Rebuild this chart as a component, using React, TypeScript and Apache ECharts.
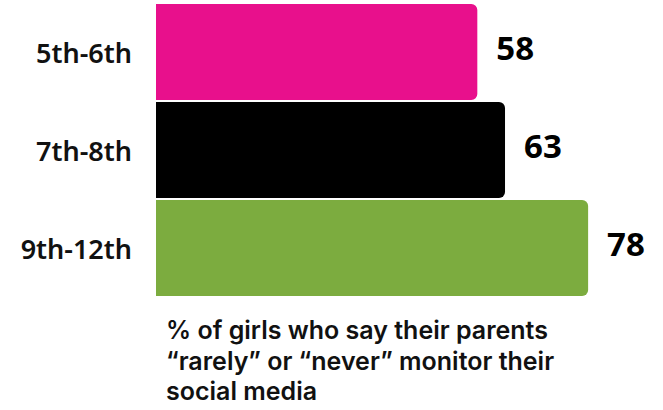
import React, { useEffect, useRef } from "react";
import * as echarts from "echarts";

const categories = ["5th-6th", "7th-8th", "9th-12th"];
const values = [58, 63, 78];
const barColors = ["#E8108C", "#000000", "#7CAC3F"];
const footnote = "% of girls who say their parents\n\u201crarely\u201d or \u201cnever\u201d monitor their\nsocial media";

export default function App() {
  const ref = useRef<HTMLDivElement>(null);
  useEffect(() => {
    if (!ref.current) return;
    const chart = echarts.init(ref.current, null, { renderer: "svg" });
    chart.setOption({
      animation: false,
      grid: { left: 156, right: 63.8, top: 3, height: 294, containLabel: false },
      xAxis: {
        type: "value",
        min: 0,
        max: 80,
        show: false,
      },
      yAxis: {
        type: "category",
        data: categories,
        inverse: true,
        axisLine: { show: false },
        axisTick: { show: false },
        axisLabel: {
          margin: 24,
          color: "#111",
          fontFamily: "Noto Sans",
          fontWeight: 600,
          fontSize: 27,
          padding: [0, 0, 9, 0],
        },
      },
      series: [
        {
          type: "bar",
          barCategoryGap: "2%",
          data: values.map((v, i) => ({ value: v, itemStyle: { color: barColors[i] } })),
          itemStyle: { borderRadius: [0, 6, 6, 0] },
          label: {
            show: true,
            position: "right",
            distance: 19,
            offset: [0, -5],
            color: "#000",
            fontFamily: "Noto Sans",
            fontWeight: 700,
            fontSize: 33,
          },
        },
      ],
      graphic: [
        {
          type: "text",
          left: 166,
          top: 315,
          style: {
            text: footnote,
            fill: "#111",
            fontFamily: "Inter",
            fontWeight: 600,
            fontSize: 25,
            lineHeight: 30.5,
          },
        },
      ],
    });
    return () => chart.dispose();
  }, []);
  return <div ref={ref} style={{ width: 663, height: 410, position: "absolute", left: 0, top: 0 }} />;
}
